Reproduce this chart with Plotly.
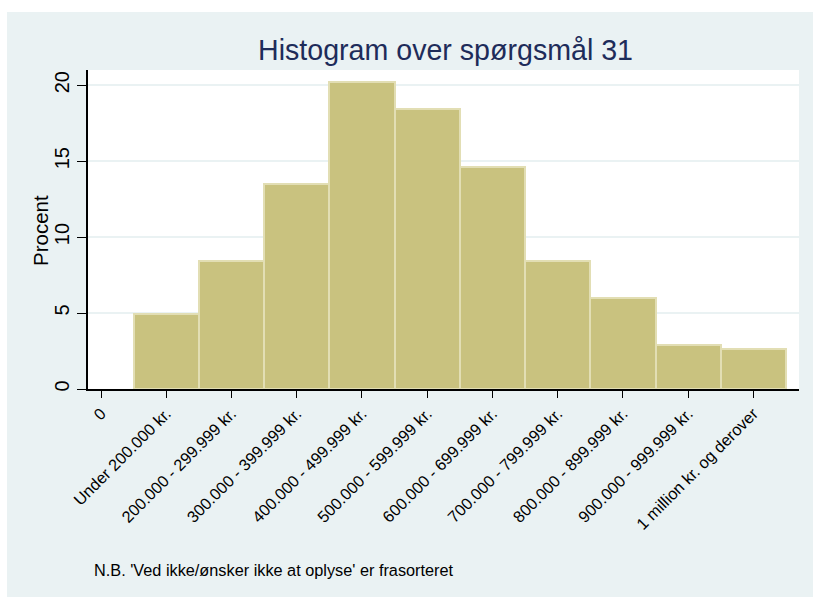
import plotly.graph_objects as go

# Income brackets (question 31) and percentage of respondents in each
categories = [
    "Under 200.000 kr.",
    "200.000 - 299.999 kr.",
    "300.000 - 399.999 kr.",
    "400.000 - 499.999 kr.",
    "500.000 - 599.999 kr.",
    "600.000 - 699.999 kr.",
    "700.000 - 799.999 kr.",
    "800.000 - 899.999 kr.",
    "900.000 - 999.999 kr.",
    "1 million kr. og derover",
]
percent = [4.94, 8.45, 13.52, 20.2, 18.46, 14.6, 8.45, 6.0, 2.9, 2.65]
y_ticks = [0, 5, 10, 15, 20]

positions = list(range(1, len(categories) + 1))
tick_positions = [0] + positions
tick_text = ["0"] + categories

FONT = "Liberation Sans, Arial, sans-serif"
OUTER_BG = "#eaf2f3"

fig = go.Figure()
fig.add_trace(go.Bar(
    x=positions,
    y=percent,
    width=1,
    marker=dict(color="#c9c27f", line=dict(color="#e2deb4", width=2)),
    hoverinfo="skip",
))

# Plot-area geometry in pixels
W, H = 813, 597
L, R, T, B = 88, 799, 70, 389
pw, ph = R - L, B - T

def px(x):
    return (x - L) / pw

def py(y):
    return (B - y) / ph

shapes = [
    # tinted outer frame
    dict(type="rect", xref="paper", yref="paper", layer="below",
         x0=px(7), x1=px(W + 5), y0=py(H + 5), y1=py(12),
         fillcolor=OUTER_BG, line=dict(width=0)),
    # white plotting region
    dict(type="rect", xref="paper", yref="paper", layer="below",
         x0=0, x1=1, y0=0, y1=1,
         fillcolor="white", line=dict(width=0)),
]

annotations = [
    dict(text="Histogram over spørgsmål 31", xref="paper", yref="paper",
         x=px(445), y=py(50), xanchor="center", yanchor="middle",
         showarrow=False, font=dict(family=FONT, size=28.6, color="#1e2c5a")),
    dict(text="Procent", xref="paper", yref="paper",
         x=px(41), y=py(230), xanchor="center", yanchor="middle",
         textangle=-90, showarrow=False,
         font=dict(family=FONT, size=20.5, color="black")),
    dict(text="N.B. 'Ved ikke/ønsker ikke at oplyse' er frasorteret",
         xref="paper", yref="paper", x=px(92), y=py(570),
         xanchor="left", yanchor="middle", showarrow=False,
         font=dict(family=FONT, size=16.3, color="black")),
]

fig.update_layout(
    width=W, height=H,
    margin=dict(l=L, r=W - R, t=T, b=H - B, pad=0),
    paper_bgcolor="white",
    plot_bgcolor="white",
    showlegend=False,
    bargap=0,
    shapes=shapes,
    annotations=annotations,
    font=dict(family=FONT, color="black"),
)

fig.update_xaxes(
    range=[-0.2, 10.7],
    tickvals=tick_positions,
    ticktext=tick_text,
    tickangle=-45,
    tickfont=dict(family=FONT, size=16.3, color="black"),
    ticks="outside", ticklen=7, tickwidth=1, tickcolor="black",
    showline=True, linecolor="black", linewidth=1.5,
    showgrid=False, zeroline=False,
)

fig.update_yaxes(
    range=[0, 21],
    tickvals=y_ticks,
    tickangle=-90,
    tickfont=dict(family=FONT, size=20, color="black"),
    ticks="outside", ticklen=9, tickwidth=1, tickcolor="black",
    showline=True, linecolor="black", linewidth=1.5,
    showgrid=True, gridcolor=OUTER_BG, gridwidth=2,
    zeroline=False,
)

fig.write_html("out.html")
